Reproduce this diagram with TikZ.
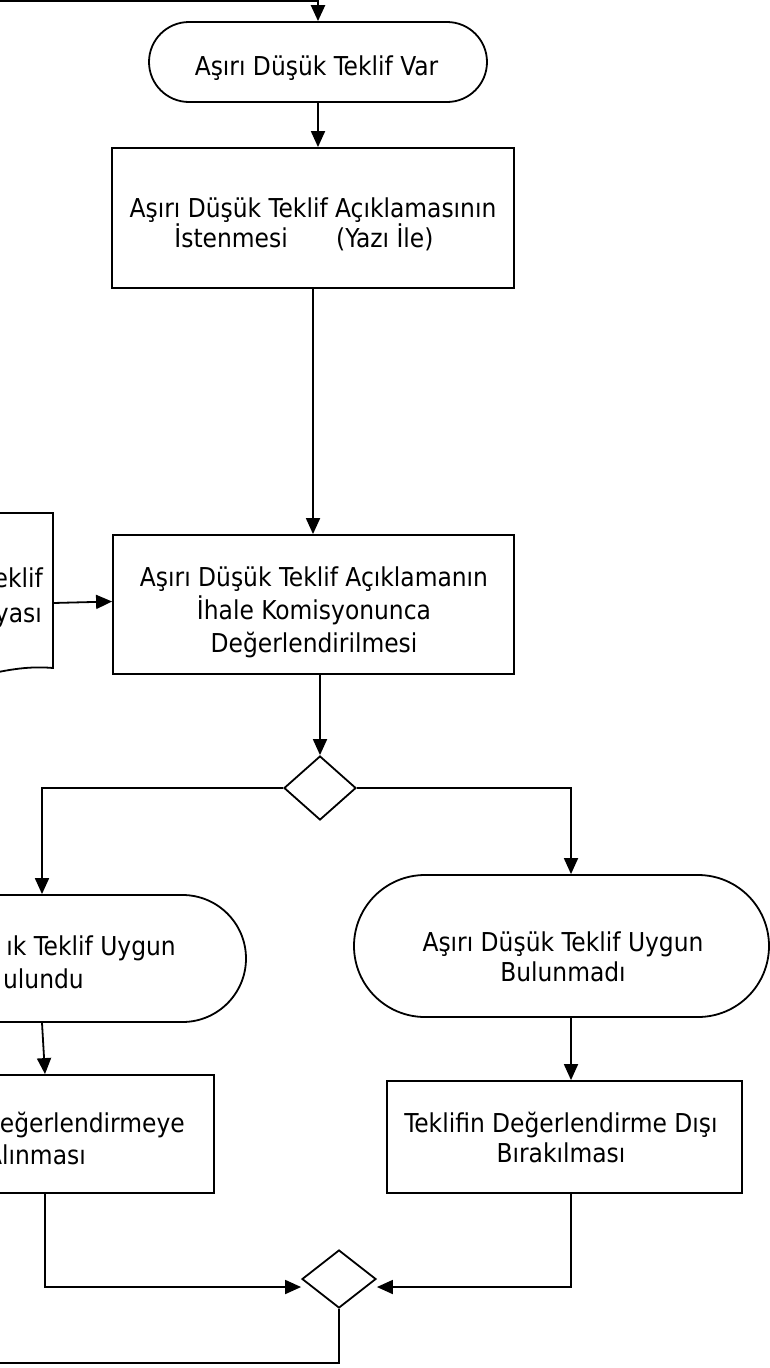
\documentclass[tikz,border=0pt]{standalone}
\usepackage{fontspec}
\setmainfont{DejaVu Sans Condensed}
\usetikzlibrary{shapes.misc,shapes.geometric,arrows.meta}
\begin{document}
\begin{tikzpicture}[x=1pt,y=-1pt,
  shp/.style={draw, line width=1.8pt, inner sep=0pt},
  term/.style={shp, rounded rectangle},
  procbox/.style={shp, rectangle},
  decision/.style={shp, diamond},
  lbl/.style={align=center, inner sep=0pt, anchor=base, font=\fontsize{26}{30}\selectfont},
  frag/.style={inner sep=0pt, anchor=base east, font=\fontsize{26}{30}\selectfont},
  arr/.style={-{Triangle[length=16pt,width=14pt]}, line width=1.8pt},
  lineth/.style={line width=2.4pt}]
\useasboundingbox (0,0) rectangle (770,1368);
\clip (0,0) rectangle (770,1368);

% shapes
\node[term, minimum width=338pt, minimum height=80pt] (t1) at (318,62) {};
\node[procbox, minimum width=402pt, minimum height=140pt] (b1) at (313,218) {};
\node[procbox, minimum width=401pt, minimum height=139pt] (b2) at (313.5,604.5) {};
\node[decision, minimum width=72pt, minimum height=64pt] (d1) at (320,788) {};
\node[term, minimum width=408pt, minimum height=127pt] (lt) at (42,958.5) {};
\node[term, minimum width=415pt, minimum height=142pt] (rt) at (561.5,946) {};
\node[procbox, minimum width=355pt, minimum height=118pt] (lb) at (36.5,1134) {};
\node[procbox, minimum width=355pt, minimum height=112pt] (rb) at (564.5,1137) {};
\node[decision, minimum width=74pt, minimum height=58pt] (d2) at (339,1279) {};

% document shape (cut at left edge)
\draw[line width=1.8pt] (-20,513) -- (53,513) -- (53,668)
  .. controls (30,666) and (10,669) .. (-20,676);
\coordinate (docR) at (53,603);

% labels (anchor = baseline of the last line)
\node[lbl] (t1t) at (316.5,75) {Aşırı Düşük Teklif Var};
\node[lbl] (b1t) at (313,247) {Aşırı Düşük Teklif Açıklamasının\\İstenmesi\hspace{41pt} (Yazı İle)\kern18pt};
\node[lbl, font=\fontsize{26}{33}\selectfont] (b2t) at (314,652) {Aşırı Düşük Teklif Açıklamanın\\İhale Komisyonunca\\Değerlendirilmesi};
\node[lbl] (rtt) at (563,981) {Aşırı Düşük Teklif Uygun\\Bulunmadı};
\node[lbl] (rbt) at (561,1162) {Teklifin Değerlendirme Dışı\\Bırakılması};
\node[frag] (doc1) at (43,587) {eklif};
\node[frag] (doc2) at (42,622) {yası};
\node[frag] (lt1) at (176,955) {ık Teklif Uygun};
\node[frag] (lt2) at (84,988) {ulundu};
\node[frag] (lb1) at (185,1132) {Değerlendirmeye};
\node[frag] (lb2) at (86,1164) {Alınması};

% connectors
\coordinate (topL) at (0,1);
\coordinate (botL) at (0,1363);
\draw[arr, line width=2.4pt] (topL) -| (t1.north);
\draw[arr] (t1.south) -- (t1.south |- b1.north);
\draw[arr] (b1.south) -- (b1.south |- b2.north);
\draw[arr] (b2.south -| d1.north) -- (d1.north);
\draw[arr] (docR) -- ([yshift=3pt]b2.west);
\draw[arr] (d1.west) -| (lt.north);
\draw[arr] (d1.east) -| ([xshift=9.5pt]rt.north);
\draw[arr] (lt.south) -- ([xshift=8.5pt]lb.north);
\draw[arr] ([xshift=9.5pt]rt.south) -- ([xshift=9.5pt]rt.south |- rb.north);
\draw[arr] ([xshift=8.5pt]lb.south) |- ([yshift=-8pt]d2.west);
\draw[arr] ([xshift=6.5pt]rb.south) |- ([yshift=-8pt]d2.east);
\draw[lineth] (d2.south) |- (botL);
\end{tikzpicture}
\end{document}
